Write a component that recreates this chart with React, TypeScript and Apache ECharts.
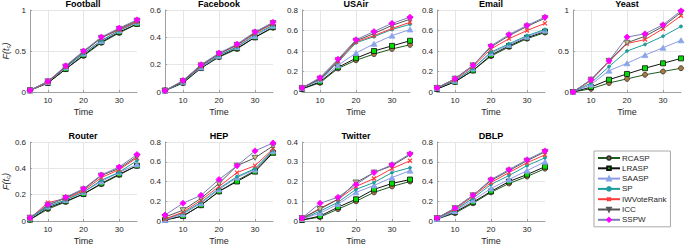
import React, { useEffect, useRef } from "react";
import * as echarts from "echarts";

const timeSteps = [5, 10, 15, 20, 25, 30, 35];
const xTickValues = [10, 20, 30];
const methodNames = ["RCASP", "LRASP", "SAASP", "SP", "IWVoteRank", "ICC", "SSPW"];
const panelTitles = ["Football", "Facebook", "USAir", "Email", "Yeast", "Router", "HEP", "Twitter", "DBLP"];
const yMaxes = [1, 0.6, 0.8, 0.8, 1, 0.6, 0.8, 0.4, 0.8];
const yIntervals = [0.5, 0.2, 0.2, 0.2, 0.5, 0.2, 0.2, 0.1, 0.2];

// rows: RCASP, LRASP, SAASP, SP, IWVoteRank, ICC, SSPW
const football = [
  [0.02, 0.11, 0.28, 0.44, 0.6, 0.72, 0.83],
  [0.02, 0.11, 0.28, 0.45, 0.61, 0.73, 0.83],
  [0.02, 0.12, 0.3, 0.47, 0.62, 0.75, 0.85],
  [0.02, 0.12, 0.3, 0.47, 0.63, 0.75, 0.85],
  [0.02, 0.12, 0.31, 0.49, 0.66, 0.76, 0.86],
  [0.02, 0.13, 0.31, 0.49, 0.66, 0.77, 0.87],
  [0.02, 0.13, 0.32, 0.5, 0.67, 0.78, 0.88],
];
const facebook = [
  [0.01, 0.065, 0.175, 0.255, 0.315, 0.4, 0.47],
  [0.01, 0.07, 0.175, 0.26, 0.32, 0.4, 0.475],
  [0.01, 0.075, 0.18, 0.265, 0.33, 0.41, 0.485],
  [0.01, 0.075, 0.185, 0.27, 0.33, 0.42, 0.49],
  [0.01, 0.08, 0.19, 0.28, 0.34, 0.43, 0.5],
  [0.01, 0.08, 0.195, 0.28, 0.345, 0.435, 0.505],
  [0.01, 0.085, 0.2, 0.285, 0.35, 0.44, 0.51],
];
const usair = [
  [0.03, 0.09, 0.23, 0.31, 0.37, 0.42, 0.46],
  [0.03, 0.1, 0.24, 0.33, 0.4, 0.45, 0.5],
  [0.04, 0.12, 0.26, 0.38, 0.47, 0.55, 0.61],
  [0.04, 0.12, 0.29, 0.48, 0.54, 0.61, 0.66],
  [0.04, 0.13, 0.3, 0.49, 0.55, 0.62, 0.68],
  [0.04, 0.13, 0.31, 0.5, 0.57, 0.65, 0.71],
  [0.04, 0.14, 0.32, 0.51, 0.59, 0.67, 0.73],
];
const email = [
  [0.03, 0.1, 0.21, 0.35, 0.44, 0.52, 0.58],
  [0.03, 0.1, 0.21, 0.36, 0.45, 0.53, 0.59],
  [0.04, 0.11, 0.23, 0.38, 0.46, 0.54, 0.6],
  [0.04, 0.11, 0.23, 0.39, 0.47, 0.55, 0.61],
  [0.04, 0.12, 0.25, 0.42, 0.52, 0.6, 0.67],
  [0.04, 0.13, 0.26, 0.44, 0.55, 0.64, 0.72],
  [0.04, 0.13, 0.26, 0.45, 0.56, 0.65, 0.73],
];
const yeast = [
  [0, 0.04, 0.11, 0.16, 0.21, 0.25, 0.29],
  [0, 0.06, 0.15, 0.22, 0.29, 0.35, 0.41],
  [0, 0.09, 0.26, 0.35, 0.45, 0.54, 0.63],
  [0, 0.11, 0.31, 0.5, 0.58, 0.68, 0.8],
  [0, 0.14, 0.37, 0.59, 0.64, 0.77, 0.93],
  [0, 0.15, 0.38, 0.6, 0.68, 0.8, 0.97],
  [0, 0.15, 0.38, 0.67, 0.71, 0.82, 0.99],
];
const router = [
  [0.01, 0.09, 0.145, 0.205, 0.28, 0.35, 0.42],
  [0.01, 0.1, 0.15, 0.205, 0.285, 0.355, 0.42],
  [0.02, 0.11, 0.16, 0.22, 0.3, 0.37, 0.43],
  [0.02, 0.11, 0.16, 0.22, 0.31, 0.37, 0.46],
  [0.02, 0.14, 0.17, 0.23, 0.33, 0.39, 0.48],
  [0.025, 0.12, 0.175, 0.24, 0.345, 0.4, 0.49],
  [0.025, 0.125, 0.18, 0.245, 0.35, 0.41, 0.505],
];
const hep = [
  [0.01, 0.05, 0.16, 0.3, 0.41, 0.51, 0.7],
  [0.01, 0.05, 0.16, 0.3, 0.4, 0.5, 0.69],
  [0.01, 0.07, 0.18, 0.32, 0.44, 0.52, 0.71],
  [0.02, 0.08, 0.19, 0.33, 0.45, 0.53, 0.72],
  [0.02, 0.09, 0.21, 0.35, 0.49, 0.56, 0.73],
  [0.04, 0.11, 0.23, 0.38, 0.56, 0.64, 0.76],
  [0.06, 0.18, 0.26, 0.42, 0.56, 0.71, 0.79],
];
const twitter = [
  [0.005, 0.02, 0.06, 0.1, 0.145, 0.175, 0.2],
  [0.005, 0.025, 0.07, 0.11, 0.16, 0.19, 0.21],
  [0.01, 0.04, 0.085, 0.145, 0.18, 0.22, 0.255],
  [0.01, 0.05, 0.095, 0.16, 0.195, 0.245, 0.27],
  [0.01, 0.065, 0.11, 0.175, 0.215, 0.265, 0.305],
  [0.015, 0.06, 0.11, 0.195, 0.245, 0.28, 0.335],
  [0.015, 0.09, 0.12, 0.185, 0.245, 0.285, 0.34],
];
const dblp = [
  [0.02, 0.08, 0.18, 0.29, 0.38, 0.45, 0.53],
  [0.02, 0.09, 0.19, 0.3, 0.4, 0.47, 0.55],
  [0.02, 0.1, 0.21, 0.33, 0.42, 0.51, 0.6],
  [0.03, 0.11, 0.23, 0.37, 0.46, 0.56, 0.64],
  [0.03, 0.12, 0.25, 0.39, 0.49, 0.59, 0.67],
  [0.03, 0.13, 0.26, 0.41, 0.51, 0.61, 0.7],
  [0.03, 0.13, 0.26, 0.42, 0.52, 0.62, 0.71],
];
const panelData = [football, facebook, usair, email, yeast, router, hep, twitter, dblp];

// styles
const lineColors = ["#1d5c1d", "#111111", "#8f98e6", "#1f9c9c", "#ff3a3a", "#555555", "#7c7cb6"];
const symbolFills = ["#a87a3e", "#00dd00", "#8aa6ea", "#1f9c9c", "#ff3a3a", "#c9c08a", "#ff00ff"];
const symbolBorders = ["#333333", "#111111", "#8aa6ea", "#1f9c9c", "#ff3a3a", "#555555", "#ff00ff"];
const symbols = [
  "circle",
  "rect",
  "path://M5,0L10,9L0,9Z",
  "circle",
  "path://M0,0L10,10M10,0L0,10",
  "path://M0,0L10,0L5,9Z",
  "path://M5,0L10,5L5,10L0,5Z",
];
const symbolSizes: any[] = [5, 5, [6, 5], 3, 4, [6, 5], 6];

const FONT = "'Liberation Sans', Arial, Helvetica, sans-serif";
const colLefts = [29, 165, 302, 437, 573];
const rowTops = [10, 142];
const rowHeights = [82, 80];
const plotWidth = 108;

export default function App() {
  const ref = useRef<HTMLDivElement>(null);
  useEffect(() => {
    if (!ref.current) return;
    const chart = echarts.init(ref.current, undefined, { renderer: "svg" });
    const grids: any[] = [];
    const xAxes: any[] = [];
    const yAxes: any[] = [];
    const titles: any[] = [];
    const series: any[] = [];
    panelTitles.forEach((t, p) => {
      const row = p < 5 ? 0 : 1;
      const col = p < 5 ? p : p - 5;
      const left = colLefts[col];
      const top = rowTops[row];
      const h = rowHeights[row];
      grids.push({ left, top, width: plotWidth, height: h, containLabel: false });
      titles.push({
        text: t,
        left: left + plotWidth / 2,
        top: top - 11,
        textAlign: "center",
        padding: 0,
        textStyle: { fontFamily: FONT, fontSize: 9, fontWeight: "bold", color: "#000" },
      });
      xAxes.push({
        type: "value",
        gridIndex: p,
        min: 5,
        max: 35,
        name: "Time",
        nameLocation: "middle",
        nameGap: 15,
        nameTextStyle: { fontFamily: FONT, fontSize: 9, color: "#262626" },
        axisLine: { show: true, lineStyle: { color: "#a0a0a0", width: 1 } },
        axisTick: { show: true, inside: true, length: 2, customValues: xTickValues, lineStyle: { color: "#a0a0a0" } },
        axisLabel: { customValues: xTickValues, fontFamily: FONT, fontSize: 8, color: "#262626", margin: 4 },
        splitLine: { show: true, lineStyle: { color: "#e6e6e6", width: 1 } },
      });
      const isFirstCol = col === 0;
      yAxes.push({
        type: "value",
        gridIndex: p,
        min: 0,
        max: yMaxes[p],
        interval: yIntervals[p],
        name: isFirstCol ? "{i|F(t}{s|c}{i|)}" : "",
        nameLocation: "middle",
        nameGap: 19,
        nameRotate: 90,
        nameTextStyle: {
          fontFamily: FONT,
          color: "#262626",
          rich: {
            i: { fontFamily: FONT, fontSize: 9, fontStyle: "italic", color: "#262626" },
            s: { fontFamily: FONT, fontSize: 6, fontStyle: "italic", color: "#262626", padding: [5, 0, 0, 0] },
          },
        },
        axisLine: { show: true, lineStyle: { color: "#a0a0a0", width: 1 } },
        axisTick: { show: true, inside: true, length: 2, lineStyle: { color: "#a0a0a0" } },
        axisLabel: {
          fontFamily: FONT,
          fontSize: 8,
          color: "#262626",
          margin: 4,
          formatter: (v: number) => String(Math.round(v * 100) / 100),
        },
        splitLine: { show: true, lineStyle: { color: "#e6e6e6", width: 1 } },
      });
      panelData[p].forEach((vals, m) => {
        series.push({
          type: "line",
          name: methodNames[m],
          xAxisIndex: p,
          yAxisIndex: p,
          data: timeSteps.map((x, i) => [x, vals[i]]),
          color: lineColors[m],
          symbol: symbols[m],
          symbolSize: symbolSizes[m],
          showSymbol: true,
          lineStyle: { color: lineColors[m], width: 1 },
          itemStyle: {
            color: symbolFills[m],
            borderColor: symbolBorders[m],
            borderWidth: m === 4 ? 1.2 : 0.8,
          },
          z: 2 + m,
          emphasis: { disabled: true },
        });
      });
    });
    chart.setOption({
      animation: false,
      backgroundColor: "#ffffff",
      title: titles,
      grid: grids,
      xAxis: xAxes,
      yAxis: yAxes,
      series,
      legend: {
        data: methodNames,
        orient: "vertical",
        left: 594,
        top: 151,
        itemWidth: 22,
        itemHeight: 4.5,
        itemGap: 2.3,
        padding: [3, 4, 3, 3],
        borderColor: "#aaaaaa",
        borderWidth: 1,
        backgroundColor: "#ffffff",
        textStyle: { fontFamily: FONT, fontSize: 8, lineHeight: 7, color: "#262626", padding: [0, 0, 0, -3] },
        selectedMode: false,
      },
    });
    return () => chart.dispose();
  }, []);
  return (
    <div
      ref={ref}
      style={{ position: "absolute", left: 0, top: 0, width: 685, height: 246, background: "#fff" }}
    />
  );
}
